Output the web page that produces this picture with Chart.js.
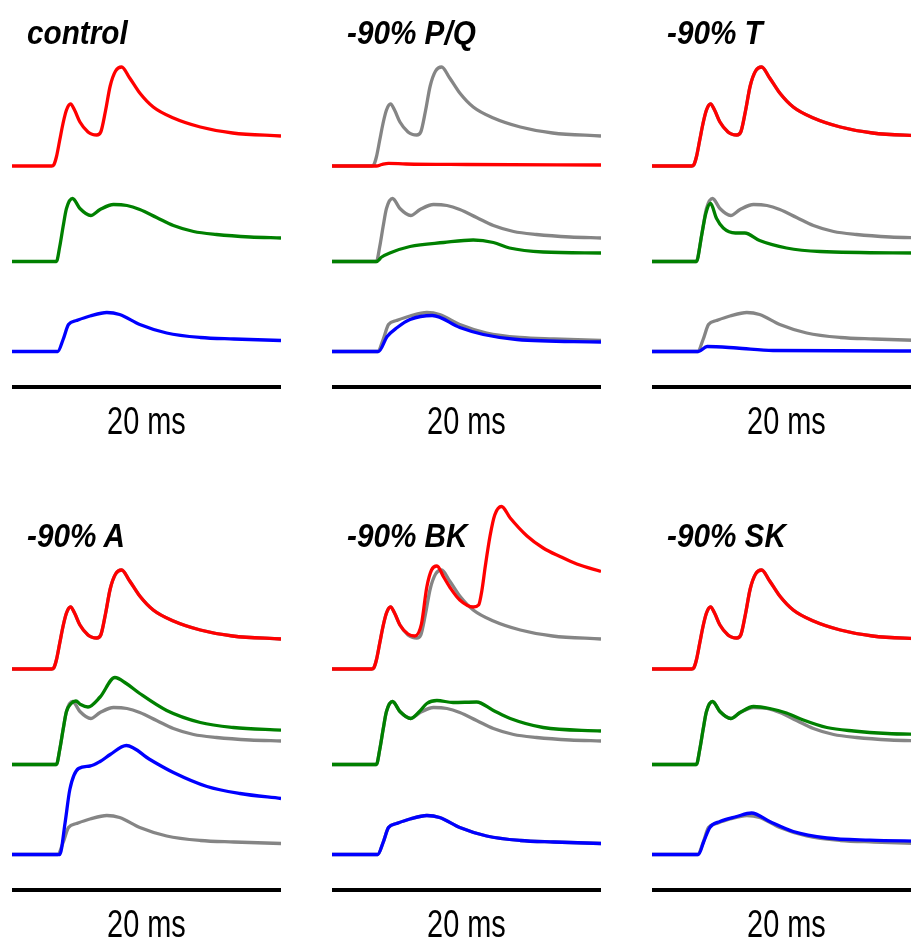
<!DOCTYPE html>
<html>
<head>
<meta charset="utf-8">
<script src="https://cdn.jsdelivr.net/npm/chart.js@4.4.0/dist/chart.umd.min.js"></script>
<style>
    html, body { margin: 0; padding: 0; width: 911px; height: 939px; overflow: hidden; background: #fff; }
    .panel { position: absolute; width: 269px; height: 450px; }
    .panel canvas { position: absolute; left: 0; top: -10px; }
    .title {
        position: absolute; left: 15px; top: 16px; white-space: nowrap;
        font: italic bold 33px "Liberation Sans", Arial, sans-serif; line-height: 1;
        transform: scaleX(0.9); transform-origin: left top;
    }
    .bar { position: absolute; left: 0; top: 385px; width: 269px; height: 4px; background: #000; }
    .label {
        position: absolute; left: 0; top: 402px; width: 269px; text-align: center;
        font: 38.5px "Liberation Sans", Arial, sans-serif; line-height: 1;
    }
    .label span { display: inline-block; transform: scaleX(0.75); }
</style>
</head>
<body>
<script>
// time in ms, amplitude in arbitrary units (each trace relative to its own resting level)
const controlRed = [[0,0],[2.95,0],[3.1,1],[3.3,9],[3.55,26],[3.8,43],[4.05,56],[4.35,62],[4.65,56],[5.05,44],[5.65,34],[6.0,31.5],[6.3,31],[6.6,34],[6.95,55],[7.3,80],[7.7,95],[8.15,99],[8.75,88],[9.5,73],[10.5,59],[12.0,48],[14.0,39],[16.4,33],[20,30]];
const controlGreen = [[0,0],[3.3,0],[3.55,15],[3.8,35],[4.05,53],[4.5,63],[5.05,53],[5.85,46],[6.55,52],[7.55,57],[8.55,56],[9.5,52],[10.75,44],[12.0,36],[13.5,30],[15.2,27],[17.7,24.5],[20,23.5]];
const controlBlue = [[0,0],[3.4,0],[3.8,12],[4.2,27],[4.8,31],[5.8,35.5],[7.05,39],[8.0,37],[9.5,27],[11.5,18.5],[14.0,14],[16.5,12.5],[20,11]];

const pqRed = [[0,0],[3.3,0],[3.7,1.5],[4.2,2.7],[5.5,2],[10,1.5],[20,1]];
const pqGreen = [[0,0],[3.3,0],[3.7,4.5],[4.3,8.5],[5.8,15],[8.3,19],[10.5,21.5],[12.0,19],[13.2,13.5],[15.7,9.5],[20,8.5]];
const pqBlue = [[0,0],[3.45,0],[4.1,15],[4.85,24],[5.8,32],[7.45,36],[9.5,24],[11.25,17],[13.75,12],[20,9.5]];

const tGreen = [[0,0],[3.3,0],[3.7,27],[4.0,48],[4.35,58],[4.8,43],[5.3,33.5],[6.2,28.5],[6.9,28.5],[8.0,21],[10.0,13.5],[12.5,10],[20,8.5]];
const tBlue = [[0,0],[3.45,0],[4.1,5],[6.3,3.5],[9.0,1],[20,0.5]];

const aGreen = [[0,0],[3.3,0],[3.55,15],[3.8,35],[4.05,53],[4.4,61],[4.75,63.5],[5.1,60],[5.65,57.5],[6.55,67.5],[7.65,87],[8.5,81],[9.5,71],[11.5,54],[14.0,42],[16.45,37],[20,34.3]];
const aBlue = [[0,0],[3.55,0],[3.95,32],[4.3,65],[4.95,86],[5.8,88.5],[6.55,93],[7.3,100],[8.5,109],[10.25,95],[12.0,82],[14.5,68],[16.95,61],[20,56]];

const bkRed = [[0,0],[2.95,0],[3.1,1],[3.3,9],[3.55,26],[3.8,43],[4.05,56],[4.35,62],[4.65,56],[5.05,44],[5.65,35],[6.15,33],[6.65,45],[7.05,82],[7.4,99],[7.8,103],[8.3,92],[8.8,81],[9.5,69],[10.5,62],[10.9,64],[11.15,79],[11.4,103],[11.75,133],[12.1,154],[12.6,162.5],[13.25,151],[14.5,133],[15.7,121],[16.95,112.5],[18.2,105],[20,97.5]];
const bkGreen = [[0,0],[3.3,0],[3.55,15],[3.8,35],[4.05,53],[4.5,63],[5.05,53],[5.85,46],[6.5,53],[7.05,61],[7.8,64],[9.0,62],[10.75,62.5],[12.0,54],[13.25,46],[15.7,37],[20,33.5]];

const skGreen = [[0,0],[3.3,0],[3.55,15],[3.8,35],[4.05,53],[4.5,63],[5.05,53],[5.85,46],[6.55,52],[7.55,58],[8.75,56],[10.0,51.5],[11.25,44.5],[13.0,37],[15.0,33.5],[17.5,31],[20,30]];
const skBlue = [[0,0],[3.45,0],[3.85,13],[4.3,27],[5.05,33],[6.3,38],[7.4,41.5],[8.75,33],[10.5,23],[13.0,16.5],[16.2,14.3],[20,13.3]];

const panelTitles = ['control', '-90% P/Q', '-90% T', '-90% A', '-90% BK', '-90% SK'];
const scaleLabel = '20 ms';
const timeRange = [0, 20];

const panels = [
    { red: controlRed, green: controlGreen, blue: controlBlue, overlay: false },
    { red: pqRed, green: pqGreen, blue: pqBlue, overlay: true },
    { red: controlRed, green: tGreen, blue: tBlue, overlay: true },
    { red: controlRed, green: aGreen, blue: aBlue, overlay: true },
    { red: bkRed, green: bkGreen, blue: controlBlue, overlay: true },
    { red: controlRed, green: skGreen, blue: skBlue, overlay: true }
];

const colLeft = [12, 332, 652];
const rowTop = [0, 503];
const restLevel = { yRed: 166, yGreen: 261.5, yBlue: 351.5 }; // pixel rows of the resting lines

function trace(points, axis, color, order) {
    return {
        data: points.map(p => ({ x: p[0], y: p[1] })),
        yAxisID: axis,
        borderColor: color,
        borderWidth: 3.3,
        pointRadius: 0,
        fill: false,
        cubicInterpolationMode: 'monotone',
        order: order
    };
}

panels.forEach((p, i) => {
    const div = document.createElement('div');
    div.className = 'panel';
    div.style.left = colLeft[i % 3] + 'px';
    div.style.top = rowTop[Math.floor(i / 3)] + 'px';
    div.innerHTML = `<canvas width="269" height="410"></canvas>
        <div class="title">${panelTitles[i]}</div>
        <div class="bar"></div>
        <div class="label"><span>${scaleLabel}</span></div>`;
    document.body.appendChild(div);

    const datasets = [
        trace(p.red, 'yRed', '#ff0000', 0),
        trace(p.green, 'yGreen', '#008000', 0),
        trace(p.blue, 'yBlue', '#0000ff', 0)
    ];
    if (p.overlay) {
        datasets.push(trace(controlRed, 'yRed', '#858585', 1));
        datasets.push(trace(controlGreen, 'yGreen', '#858585', 1));
        datasets.push(trace(controlBlue, 'yBlue', '#858585', 1));
    }

    const scales = { x: { type: 'linear', min: timeRange[0], max: timeRange[1], display: false } };
    Object.keys(restLevel).forEach(id => {
        scales[id] = { type: 'linear', min: restLevel[id] - 400, max: restLevel[id] + 10, display: false };
    });

    new Chart(div.querySelector('canvas'), {
        type: 'line',
        data: { datasets: datasets },
        options: {
            responsive: false,
            animation: false,
            events: [],
            layout: { padding: 0 },
            plugins: { legend: { display: false }, tooltip: { enabled: false } },
            scales: scales
        }
    });
});
</script>
</body>
</html>
